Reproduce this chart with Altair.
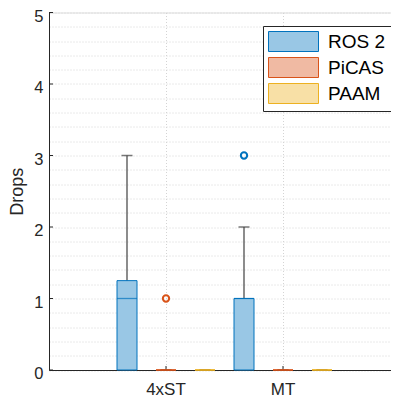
import altair as alt
import pandas as pd

# ---- data ----
cat_order = ["4xST", "MT"]
group_order = ["ROS 2", "PiCAS", "PAAM"]
edge_colors = ["#0072BD", "#D95319", "#EDB120"]
fill_colors = ["#99C7E5", "#F0BAA3", "#F8E0A6"]

box_cat = ["4xST", "4xST", "4xST", "MT", "MT", "MT"]
box_group = ["ROS 2", "PiCAS", "PAAM", "ROS 2", "PiCAS", "PAAM"]
box_lower = [0, 0, 0, 0, 0, 0]
box_q1 = [0, 0, 0, 0, 0, 0]
box_median = [1, 0, 0, 1, 0, 0]
box_q3 = [1.25, 0, 0, 1, 0, 0]
box_upper = [3, 0, 0, 2, 0, 0]

out_cat = ["4xST", "MT"]
out_group = ["PiCAS", "ROS 2"]
out_value = [1, 3]

y_major = [0, 1, 2, 3, 4, 5]
y_grid = [0, 0.2, 0.4, 0.6, 0.8, 1, 1.2, 1.4, 1.6, 1.8, 2, 2.2, 2.4, 2.6, 2.8,
          3, 3.2, 3.4, 3.6, 3.8, 4, 4.2, 4.4, 4.6, 4.8, 5]

edge_of = dict(zip(group_order, edge_colors))

df = pd.DataFrame({
    "cat": box_cat, "group": box_group, "lower": box_lower, "q1": box_q1,
    "median": box_median, "q3": box_q3, "upper": box_upper,
})
df["edge"] = df["group"].map(edge_of)

df_out = pd.DataFrame({"cat": out_cat, "group": out_group, "value": out_value})
df_out["edge"] = df_out["group"].map(edge_of)

df_yt = pd.DataFrame({"v": y_major})
df_xt = pd.DataFrame({"cat": cat_order})

FONT = "Liberation Sans"
AX = "#262626"
W, H = 342, 357.5   # visible plot width (page is 399 wide); x range runs past it
X_RANGE = 351

x_enc = alt.X(
    "cat:N",
    scale=alt.Scale(domain=cat_order, paddingInner=0, paddingOuter=0.5, range=[0, X_RANGE]),
    axis=alt.Axis(
        title=None, labelAngle=0, labelFontSize=17, labelFont=FONT, labelColor=AX,
        labelPadding=11, tickSize=0, grid=True, gridDash=[1, 2], gridColor="#d4d4d4",
        domainColor=AX, domainWidth=1, bandPosition=0.5,
    ),
)
xo_enc = alt.XOffset("group:N", scale=alt.Scale(domain=group_order, paddingInner=0, paddingOuter=0))

y_scale = alt.Scale(domain=[0, 5], nice=False)
y_axis = alt.Axis(
    values=y_grid, labelExpr="datum.value % 1 === 0 ? format(datum.value, 'd') : ''",
    labelFontSize=16.5, labelFont=FONT, labelColor=AX, labelPadding=6, labelOffset=3.5,
    tickSize=0, grid=True, gridDash=[1, 2], gridColor="#d4d4d4", domainColor=AX,
    domainWidth=1, title="Drops", titleFontSize=18, titleFont=FONT,
    titleFontWeight="normal", titleColor=AX, titlePadding=7,
)


def Y(field):
    return alt.Y(field, scale=y_scale, axis=y_axis, title="Drops")


base = alt.Chart(df)

whisk_hi = base.mark_rule(color="#404040", strokeWidth=1.2).encode(
    x=x_enc, xOffset=xo_enc, y=Y("q3:Q"), y2="upper:Q",
)
whisk_lo = base.mark_rule(color="#404040", strokeWidth=1.2).encode(
    x=x_enc, xOffset=xo_enc, y=Y("lower:Q"), y2="q1:Q",
)
cap_hi = base.mark_tick(color="#404040", size=11, thickness=1.5).encode(
    x=x_enc, xOffset=xo_enc, y=Y("upper:Q"),
)
cap_lo = base.mark_tick(color="#404040", size=11, thickness=1.5).encode(
    x=x_enc, xOffset=xo_enc, y=Y("lower:Q"),
)

legend = alt.Legend(
    title=None, orient="none", legendX=214, legendY=13.5,
    symbolType="M-2.5,-1H2.5V1H-2.5Z", symbolSize=400, symbolStrokeWidth=1,
    symbolOffset=15, labelOffset=24, labelFontSize=19, labelFont=FONT,
    labelColor="#000000", rowPadding=1, padding=5, strokeColor=AX,
    fillColor="white", symbolOpacity=1,
)

boxes = base.mark_bar(size=20, strokeWidth=1, opacity=1).encode(
    x=x_enc, xOffset=xo_enc, y=Y("q1:Q"), y2="q3:Q",
    fill=alt.Fill("group:N", scale=alt.Scale(domain=group_order, range=fill_colors), legend=legend),
    stroke=alt.Stroke("group:N", scale=alt.Scale(domain=group_order, range=edge_colors), legend=legend),
)
medians = base.mark_tick(size=20, thickness=1.3).encode(
    x=x_enc, xOffset=xo_enc, y=Y("median:Q"),
    color=alt.Color("edge:N", scale=None),
)
outliers = alt.Chart(df_out).mark_point(shape="circle", filled=False, size=40, strokeWidth=2, opacity=1).encode(
    x=x_enc, xOffset=xo_enc, y=Y("value:Q"),
    color=alt.Color("edge:N", scale=None),
)

ytick = alt.Chart(df_yt).mark_rule(color=AX, strokeWidth=1).encode(
    y=Y("v:Q"), x=alt.value(0), x2=alt.value(4),
)
xtick = alt.Chart(df_xt).mark_rule(color=AX, strokeWidth=1).encode(
    x=x_enc, y=alt.value(H), y2=alt.value(H - 4),
)

chart = alt.layer(
    whisk_hi, whisk_lo, cap_hi, cap_lo, xtick, ytick, boxes, medians, outliers
).properties(
    width=W, height=H,
    autosize=alt.AutoSizeParams(type="none"),
    padding={"left": 41, "top": 4.5, "right": 0, "bottom": 27},
).configure_view(stroke=None).configure(font=FONT)

chart.save("out.html", embed_options={"renderer": "svg", "actions": False})
